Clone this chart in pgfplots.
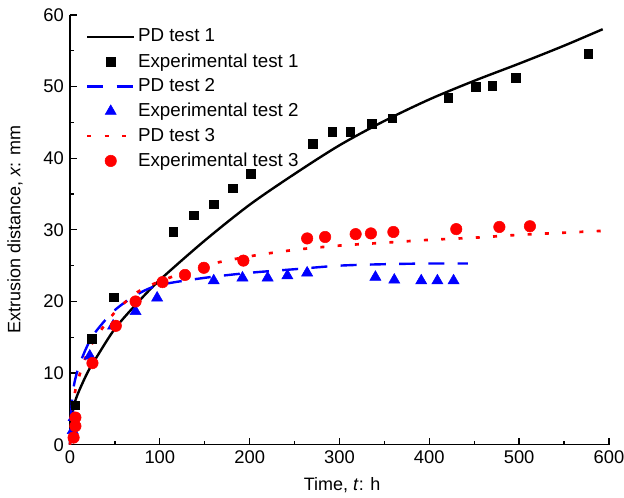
\documentclass[border=0pt]{standalone}
\usepackage{fontspec}
\setmainfont{Liberation Sans}
\usepackage{pgfplots}
\pgfplotsset{compat=1.18}

\definecolor{pdblue}{RGB}{0,0,255}
\definecolor{pdred}{RGB}{255,0,0}

\pgfplotsset{
    lineleg/.style={legend image code/.code={\draw[##1] (0pt,0pt) -- (35pt,0pt);}},
    markleg/.style={legend image code/.code={\draw[##1] plot coordinates {(17.5pt,0pt)};}},
}

\begin{document}
\fontsize{13.5}{16}\selectfont
\begin{tikzpicture}
\begin{axis}[
    scale only axis,
    width=405pt, height=323pt,
    xmin=0, xmax=600,
    ymin=0, ymax=60,
    xtick={0,100,...,600},
    ytick={0,10,...,60},
    minor xtick={50,150,...,550},
    minor ytick={5,15,...,55},
    axis lines=left,
    axis line style={-, line width=1.1pt},
    tick align=inside,
    major tick length=5pt,
    minor tick length=3pt,
    tick style={black, line width=1pt},
    /pgf/number format/assume math mode=true,
    ticklabel style={font=\fontsize{13.8}{16}\selectfont},
    label style={font=\fontsize{13.5}{16}\selectfont},
    xlabel={Time, \textit{t}: h},
    ylabel={Extrusion distance, \textit{x}: mm},
    xlabel style={at={(axis description cs:0.505,-0.095)}, anchor=center},
    ylabel style={at={(axis description cs:-0.102,0.5)}, anchor=center},
    clip=false,
    legend style={draw=none, fill=none, at={(0.022,0.98)}, anchor=north west,
        font=\fontsize{14.1}{16}\selectfont, row sep=2.6pt},
    legend cell align=left,
]

% PD test 1
\addplot[black, line width=1.8pt, smooth, lineleg] coordinates {
(0,0) (1,2.5) (3,4.5) (5,5.8) (10,7.5) (20,10.2) (30,12.3) (50,16.2)
(75,19.8) (100,23) (150,28.5) (200,33.5) (250,37.8) (300,41.8)
(350,45.2) (400,48.2) (450,50.8) (500,53.2) (550,55.7) (593,58)
};
\addlegendentry{PD test 1}

% Experimental test 1
\addplot[only marks, mark=square*, mark size=3.2pt, black, markleg] coordinates {
(6,5.5) (24,14.8) (49,20.6) (115,29.7) (138,32) (160,33.6) (181,35.8)
(201,37.8) (270,42) (292,43.7) (312,43.7) (336,44.8) (359,45.6)
(421,48.4) (452,50) (470,50.1) (496,51.2) (577,54.6)
};
\addlegendentry{Experimental test 1}

% PD test 2
\addplot[pdblue, line width=1.8pt, dash pattern=on 12pt off 10pt, smooth, lineleg] coordinates {
(0,0) (1,4) (3,7) (5,8.7) (10,11) (20,14) (30,16) (50,18.8) (75,21)
(100,22.3) (150,23.3) (200,24) (250,24.5) (300,25) (350,25.2)
(400,25.3) (443,25.3)
};
\addlegendentry{PD test 2}

% Experimental test 2
\addplot[only marks, mark=triangle*, mark size=4.8pt, pdblue, markleg] coordinates {
(3,2) (4,3.8) (22,12.4) (48,16.6) (73,18.6) (97,20.5) (160,22.9)
(192,23.3) (220,23.3) (242,23.6) (264,24) (340,23.4) (361,23)
(391,22.9) (409,22.9) (427,22.9)
};
\addlegendentry{Experimental test 2}

% PD test 3
\addplot[pdred, line width=2pt, dash pattern=on 3pt off 10pt, smooth, lineleg] coordinates {
(0,0) (2,4) (5,7) (10,9.5) (20,13) (30,15.2) (50,18.5) (75,21.3)
(100,22.8) (150,25) (200,26.3) (250,27.2) (300,27.8) (350,28.2)
(400,28.6) (450,28.9) (500,29.3) (550,29.6) (600,29.9)
};
\addlegendentry{PD test 3}

% Experimental test 3
\addplot[only marks, mark=*, mark size=4.3pt, pdred, markleg] coordinates {
(4,1) (6,2.6) (6,3.8) (25,11.4) (51,16.6) (73,20) (103,22.7) (128,23.7)
(149,24.7) (193,25.7) (264,28.8) (284,29) (318,29.4) (335,29.5)
(360,29.7) (430,30.1) (478,30.4) (512,30.5)
};
\addlegendentry{Experimental test 3}

\end{axis}
\pgfresetboundingbox
\path ([shift={(-52.6pt,-39.4pt)}]current axis.south west)
    rectangle ([shift={(11.3pt,11.2pt)}]current axis.north east);
\end{tikzpicture}
\end{document}
